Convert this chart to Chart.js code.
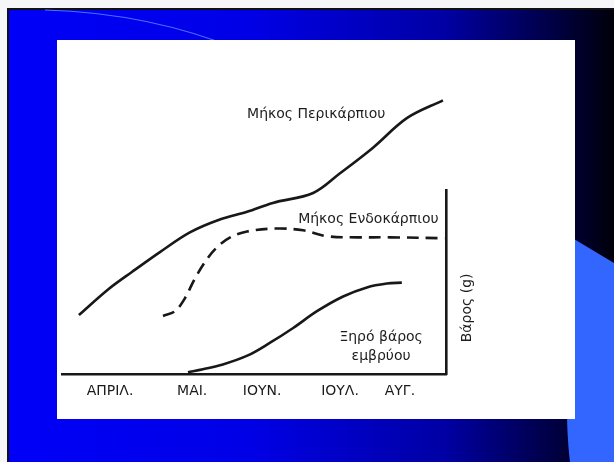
<!DOCTYPE html>
<html>
<head>
<meta charset="utf-8">
<script src="https://cdn.jsdelivr.net/npm/chart.js@4.4.1/dist/chart.umd.min.js"></script>
<style>
    html, body { margin: 0; padding: 0; width: 614px; height: 462px; overflow: hidden; background: #f6f6f8; }
    #slide {
        position: absolute; left: 7px; top: 8px; width: 607px; height: 454px;
        box-sizing: border-box; border-left: 2px solid #111; border-top: 2px solid #111;
        background: linear-gradient(to right, #0000f8 0%, #0000e6 40%, #0000a4 72%, #000044 90%, #00000a 100%);
    }
    #deco { position: absolute; left: 0; top: 0; }
    #card { position: absolute; left: 57px; top: 40px; width: 518px; height: 379px; background: #fff; }
</style>
</head>
<body>
<div id="slide"></div>
<svg id="deco" width="614" height="462">
    <path d="M 45 10 Q 150 13 240 50" stroke="#4a70ff" stroke-width="1.2" fill="none"/>
    <path d="M 574 239 L 614 263 L 614 462 L 570 462 Q 562 400 574 239 Z" fill="#3366ff"/>
</svg>
<div id="card"><canvas id="growthChart" width="518" height="379"></canvas></div>

<script>
// months along the bottom and where the drawing puts them (0..100 across the axis)
const monthLabels = ['ΑΠΡΙΛ.', 'ΜΑΙ.', 'ΙΟΥΝ.', 'ΙΟΥΛ.', 'ΑΥΓ.'];
const monthPos = [12.5, 33.9, 52.1, 72.4, 88.0];

// Μήκος Περικάρπιου
const pericarpX = [4.4, 12.0, 18.2, 25.5, 33.3, 41.1, 48.2, 54.9, 65.4, 72.4, 81.0, 89.8, 99.2];
const pericarpY = [32.1, 46.0, 55.5, 66.3, 77.0, 84.0, 88.2, 93.0, 98.4, 109.1, 123.0, 139.0, 148.7];

// Μήκος Ενδοκάρπιου
const endocarpX = [26.3, 29.4, 32.0, 34.6, 37.8, 40.4, 43.8, 48.2, 56.0, 62.8, 69.0, 76.8, 85.4, 99.7];
const endocarpY = [31.6, 34.2, 41.2, 51.9, 62.6, 69.0, 74.3, 77.5, 79.1, 78.1, 74.9, 74.3, 74.3, 73.8];

// Ξηρό βάρος εμβρύου
const embryoX = [32.8, 36.7, 41.9, 48.4, 54.2, 60.2, 66.4, 73.2, 79.4, 84.6, 88.5];
const embryoY = [1.1, 2.7, 5.3, 10.2, 17.1, 25.1, 34.2, 42.2, 47.1, 49.2, 49.7];

function points(xs, ys) {
    return xs.map((x, i) => ({ x: x, y: ys[i] }));
}

const ink = '#181818';
const textFont = '14px "DejaVu Sans"';

// curve captions, placed in data units
const notes = [
    { text: 'Μήκος Περικάρπιου', x: 48.2, y: 141.2, align: 'left' },
    { text: 'Μήκος Ενδοκάρπιου', x: 61.5, y: 84.0, align: 'left' },
    { text: 'Ξηρό βάρος', x: 83.1, y: 19.8, align: 'center' },
    { text: 'εμβρύου', x: 83.1, y: 9.6, align: 'center' }
];

const captions = {
    id: 'captions',
    afterDatasetsDraw(chart) {
        const ctx = chart.ctx;
        const xs = chart.scales.x, ys = chart.scales.y;
        ctx.save();
        ctx.fillStyle = '#1e1e1e';
        ctx.font = textFont;
        ctx.textBaseline = 'middle';
        notes.forEach(n => {
            ctx.textAlign = n.align;
            ctx.fillText(n.text, xs.getPixelForValue(n.x), ys.getPixelForValue(n.y));
        });
        // axis title reads bottom to top
        ctx.translate(chart.chartArea.right + 21, ys.getPixelForValue(36));
        ctx.rotate(-Math.PI / 2);
        ctx.textAlign = 'center';
        ctx.fillText('Βάρος (g)', 0, 0);
        ctx.restore();
    }
};

const ctx = document.getElementById('growthChart').getContext('2d');
const growthChart = new Chart(ctx, {
    type: 'line',
    data: {
        datasets: [{
            label: 'Μήκος Περικάρπιου',
            data: points(pericarpX, pericarpY),
            borderColor: ink,
            borderWidth: 2.6
        },
        {
            label: 'Μήκος Ενδοκάρπιου',
            data: points(endocarpX, endocarpY),
            borderColor: ink,
            borderWidth: 2.6,
            borderDash: [12, 7]
        },
        {
            label: 'Ξηρό βάρος εμβρύου',
            data: points(embryoX, embryoY),
            borderColor: ink,
            borderWidth: 2.6
        }
        ]
    },
    options: {
        responsive: false,
        animation: false,
        devicePixelRatio: 1,
        layout: {
            padding: { left: 5, right: 129, top: 150, bottom: 10 }
        },
        elements: {
            line: { tension: 0.35, fill: false },
            point: { radius: 0, hoverRadius: 0 }
        },
        datasets: {
            line: { clip: false }
        },
        plugins: {
            legend: { display: false },
            tooltip: { enabled: false }
        },
        scales: {
            x: {
                type: 'linear',
                min: 0,
                max: 100,
                grid: { display: false, drawTicks: false },
                border: { display: true, color: ink, width: 2.6 },
                afterBuildTicks: scale => {
                    scale.ticks = monthPos.map(v => ({ value: v }));
                },
                ticks: {
                    autoSkip: false,
                    maxRotation: 0,
                    padding: 9,
                    color: '#1a1a1a',
                    font: { family: 'DejaVu Sans', size: 14 },
                    callback: (value, index) => monthLabels[index]
                }
            },
            y: {
                type: 'linear',
                position: 'right',
                min: 0,
                max: 100,
                grid: { display: false, drawTicks: false },
                border: { display: true, color: ink, width: 2.6 },
                ticks: { display: false }
            }
        }
    },
    plugins: [captions]
});
</script>
</body>
</html>
